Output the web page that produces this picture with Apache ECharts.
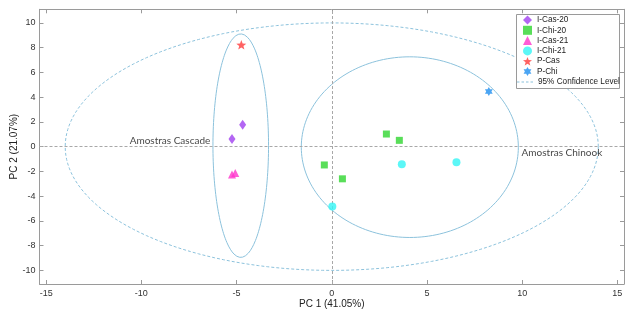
<!DOCTYPE html>
<html>
<head>
<meta charset="utf-8">
<script src="https://cdn.jsdelivr.net/npm/echarts@6/dist/echarts.min.js"></script>
<style>
html,body{margin:0;padding:0;background:#fff}
#chart{width:638px;height:316px}
</style>
</head>
<body>
<div id="chart"></div>
<script>
// scores, [PC1, PC2]
const iCas20 = [[-4.68, 1.77], [-5.24, 0.62]]
const iChi20 = [[2.87, 1.02], [3.55, 0.51], [-0.39, -1.48], [0.56, -2.60]]
const iCas21 = [[-5.24, -2.26], [-5.07, -2.12]]
const iChi21 = [[3.68, -1.43], [6.55, -1.27], [0.03, -4.84]]
const pCas = [[-4.75, 8.23]]
const pChi = [[8.25, 4.46]]

// ellipses: confidence 95%, Cascade group, Chinook group
const ellipseNames = ['95% Confidence Level', 'Cascade', 'Chinook']
const ellipseCx = [0, -4.78, 4.1]
const ellipseCy = [0, 0.08, -0.04]
const ellipseRx = [14, 1.46, 5.7]
const ellipseRy = [10, 9.03, 7.3]

const annoText = ['Amostras Cascade', 'Amostras Chinook']
const annoX = [-6.38, 9.97]
const annoY = [0.5, -0.46]

const xTicks = [-15, -10, -5, 0, 5, 10, 15]
const yTicks = [-10, -8, -6, -4, -2, 0, 2, 4, 6, 8, 10]
const xRange = [-15.35, 15.35]
const yRange = [-11.1, 11.1]

function starPath(n, inner) {
    let d = ''
    for (let i = 0; i < 2 * n; i++) {
        const r = i % 2 ? inner : 1
        const a = -Math.PI / 2 + i * Math.PI / n
        d += (i ? 'L' : 'M') + (Math.cos(a) * r).toFixed(3) + ' ' + (Math.sin(a) * r).toFixed(3)
    }
    return 'path://' + d + 'Z'
}

function ellipsePoints(k) {
    const pts = []
    for (let i = 0; i <= 180; i++) {
        const t = i / 180 * 2 * Math.PI
        pts.push([ellipseCx[k] + ellipseRx[k] * Math.cos(t), ellipseCy[k] + ellipseRy[k] * Math.sin(t)])
    }
    return pts
}

const font = 'Liberation Sans, Arial, sans-serif'
const boxColor = '#9a9a9a'
const ellColor = '#8cc2dc'
const dashIcon = 'path://M0 0H2.5V1H0ZM4.5 0H7V1H4.5ZM9 0H11.5V1H9ZM13.5 0H16V1H13.5Z'

const axisBase = {
    type: 'value',
    splitLine: { show: false },
    axisLine: { show: true, onZero: false, lineStyle: { color: boxColor, width: 1 } },
    axisTick: { show: true, inside: true, length: 4, lineStyle: { color: boxColor } }
}

function scatter(name, data, symbol, size, color) {
    return {
        name: name, type: 'scatter', data: data, symbol: symbol, symbolSize: size,
        symbolKeepAspect: true, itemStyle: { color: color }, z: 5
    }
}

const legendText = { fontSize: 8.2, lineHeight: 9, color: '#222', fontFamily: font }

const chart = echarts.init(document.getElementById('chart'))
chart.setOption({
    animation: false,
    grid: { left: 39.5, right: 14, top: 9.3, bottom: 32, outerBoundsMode: 'none', containLabel: false },
    xAxis: [
        Object.assign({}, axisBase, {
            min: xRange[0], max: xRange[1], position: 'bottom',
            axisTick: Object.assign({}, axisBase.axisTick, { customValues: xTicks }),
            axisLabel: { customValues: xTicks, fontSize: 9, color: '#333', fontFamily: font, margin: 5 },
            name: 'PC 1 (41.05%)', nameLocation: 'middle', nameGap: 15, nameMoveOverlap: false,
            nameTextStyle: { fontSize: 10, color: '#222', fontFamily: font }
        }),
        Object.assign({}, axisBase, {
            min: xRange[0], max: xRange[1], position: 'top',
            axisTick: Object.assign({}, axisBase.axisTick, { customValues: xTicks }),
            axisLabel: { show: false }
        })
    ],
    yAxis: [
        Object.assign({}, axisBase, {
            min: yRange[0], max: yRange[1], position: 'left',
            axisTick: Object.assign({}, axisBase.axisTick, { customValues: yTicks }),
            axisLabel: { customValues: yTicks, fontSize: 9, color: '#333', fontFamily: font, margin: 4 },
            name: 'PC 2 (21.07%)', nameLocation: 'middle', nameGap: 20, nameMoveOverlap: false,
            nameTextStyle: { fontSize: 10, color: '#222', fontFamily: font }
        }),
        Object.assign({}, axisBase, {
            min: yRange[0], max: yRange[1], position: 'right',
            axisTick: Object.assign({}, axisBase.axisTick, { customValues: yTicks }),
            axisLabel: { show: false }
        })
    ],
    graphic: [{
        type: 'rect', left: 516, top: 14, z: 3,
        shape: { width: 103, height: 74 },
        style: { fill: '#fff', stroke: boxColor, lineWidth: 1 }
    }],
    legend: [
        {
            orient: 'vertical', left: 523, top: 15.5, padding: 0,
            itemWidth: 9, itemHeight: 9, itemGap: 1.3,
            textStyle: legendText,
            data: ['I-Cas-20', 'I-Chi-20', 'I-Cas-21', 'I-Chi-21', 'P-Cas', 'P-Chi']
        },
        {
            orient: 'vertical', left: 517, top: 77.5, padding: 0,
            itemWidth: 16, itemHeight: 9,
            textStyle: legendText,
            data: [{ name: ellipseNames[0], icon: dashIcon }]
        }
    ],
    series: [
        {
            name: ellipseNames[0], type: 'line', data: ellipsePoints(0), symbol: 'none',
            lineStyle: { color: ellColor, width: 1, type: [3, 2] }, itemStyle: { color: ellColor },
            silent: true, z: 2,
            markLine: {
                silent: true, symbol: 'none', label: { show: false },
                lineStyle: { color: '#a8a8a8', width: 1, type: [3, 2] },
                data: [{ yAxis: 0 }, { xAxis: 0 }]
            }
        },
        {
            name: ellipseNames[1], type: 'line', data: ellipsePoints(1), symbol: 'none',
            lineStyle: { color: ellColor, width: 1 }, silent: true, z: 2
        },
        {
            name: ellipseNames[2], type: 'line', data: ellipsePoints(2), symbol: 'none',
            lineStyle: { color: ellColor, width: 1 }, silent: true, z: 2
        },
        scatter('I-Cas-20', iCas20, 'diamond', [7, 10], '#a040f0'),
        scatter('I-Chi-20', iChi20, 'rect', 7, '#2fd62f'),
        scatter('I-Cas-21', iCas21, 'triangle', 8, '#ff33cc'),
        scatter('I-Chi-21', iChi21, 'circle', 8, '#33f5f5'),
        scatter('P-Cas', pCas, starPath(5, 0.42), 10, '#ff3b3b'),
        scatter('P-Chi', pChi, starPath(6, 0.58), 9, '#1e8ff0'),
        {
            type: 'scatter', symbolSize: 0, silent: true, z: 6,
            data: annoText.map((t, i) => ({
                value: [annoX[i], annoY[i]], name: t,
                label: { show: true, position: i === 0 ? 'left' : 'right', distance: 0 }
            })),
            label: { formatter: '{b}', fontSize: 10, color: '#111', fontFamily: 'Lato, sans-serif' }
        }
    ]
})
</script>
</body>
</html>
